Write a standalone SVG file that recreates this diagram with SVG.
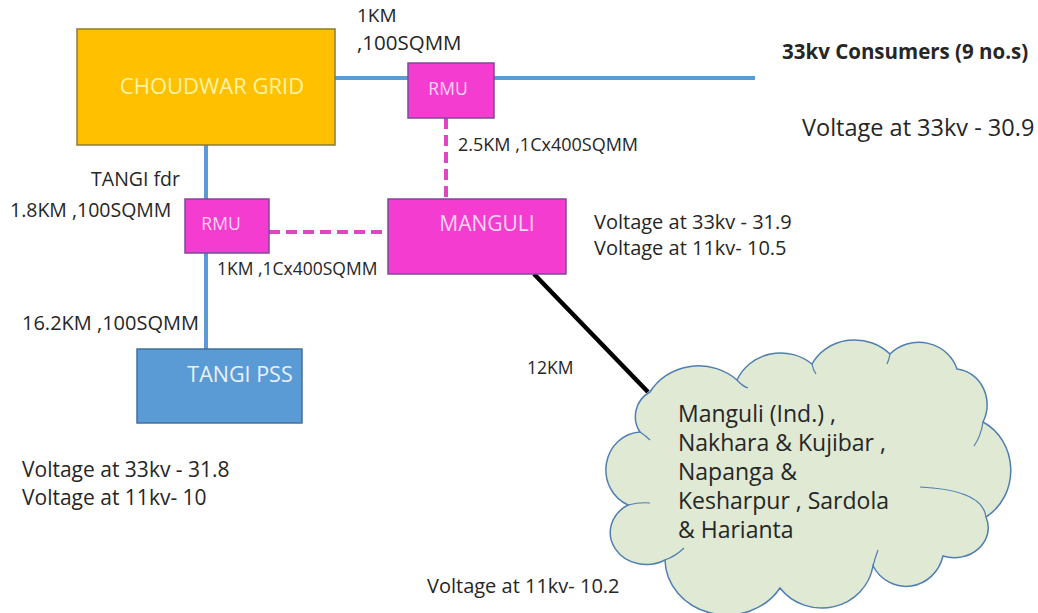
<svg xmlns="http://www.w3.org/2000/svg" width="1038" height="613" viewBox="0 0 1038 613">
<style>
text{font-family:"Open Sans","Noto Sans","Liberation Sans",sans-serif;fill:#262626}
.sm{font-size:19.5px}
.md{font-size:20px}
.lg{font-size:21px}
.cl{font-size:23px}
.box{stroke-width:1.5}
.lbl{text-anchor:middle}
.blue{stroke:#5b9bd5;stroke-width:4;fill:none}
.pink{stroke:#e045c6;stroke-width:4;fill:none;stroke-dasharray:11 6}
</style>
<rect width="1038" height="613" fill="#fff"/>
<g id="connectors">
<line class="blue" x1="335" y1="78" x2="755" y2="78"/>
<line class="blue" x1="206" y1="145" x2="206" y2="349"/>
<line class="pink" x1="446" y1="118" x2="446" y2="199"/>
<line class="pink" x1="269" y1="232" x2="388" y2="232"/>
<line x1="534" y1="274" x2="648" y2="392" stroke="#000" stroke-width="4.5"/>
</g>
<g id="choudwar">
<rect class="box" x="77" y="29" width="258" height="116" fill="#ffc000" stroke="#8c7a3a"/>
<text class="lbl" x="212" y="94" style="fill:#fff3a6;font-size:22px">CHOUDWAR GRID</text>
</g>
<g id="rmu-top">
<rect class="box" x="408" y="63" width="86" height="55" fill="#f53cd0" stroke="#7b4a9a"/>
<text class="lbl" x="448" y="95" style="fill:#ffd6f4;font-size:17.5px">RMU</text>
</g>
<g id="rmu-left">
<rect class="box" x="185" y="199" width="84" height="54" fill="#f53cd0" stroke="#7b4a9a"/>
<text class="lbl" x="221" y="230" style="fill:#ffd6f4;font-size:17.5px">RMU</text>
</g>
<g id="manguli">
<rect class="box" x="388" y="199" width="178" height="75" fill="#f53cd0" stroke="#7b4a9a"/>
<text class="lbl" x="487" y="231" style="fill:#ffd6f4;font-size:21px">MANGULI</text>
</g>
<g id="tangi-pss">
<rect class="box" x="137" y="349" width="165" height="74" fill="#5b9bd5" stroke="#41719c"/>
<text class="lbl" x="240" y="382" style="fill:#e8f1fb;font-size:21.5px">TANGI PSS</text>
</g>
<g id="cloud">
<path d="M640 432 A28 28 0 0 1 650 392 A56 52 0 0 1 737 380 A48 46 0 0 1 812 364 A48 44 0 0 1 890 354 A40 38 0 0 1 957 369 A34 36 0 0 1 983 422 A50 54 0 0 1 986 517 A34 30 0 0 1 943 556 A38 40 0 0 1 873 566 A52 50 0 0 1 780 588 A62 56 0 0 1 665 560 A34 30 0 0 1 628 505 A36 38 0 0 1 640 432 Z" fill="#dfe9d4" stroke="#4f7fb0" stroke-width="1.5"/>
<g fill="none" stroke="#4f7fb0" stroke-width="1.2">
<path d="M737 380 Q742 386 748 388"/>
<path d="M812 364 Q813 370 816 374"/>
<path d="M890 354 Q889 360 887 364"/>
<path d="M983 422 Q981 436 974 446"/>
<path d="M986 517 Q983 490 920 487"/>
<path d="M873 566 Q875 558 878 550"/>
<path d="M665 560 Q676 556 684 548"/>
<path d="M628 505 Q640 502 650 503"/>
<path d="M640 432 Q646 436 650 440"/>
</g>
<text class="cl" x="678" y="422">Manguli (Ind.) ,</text>
<text class="cl" x="678" y="451">Nakhara &amp; Kujibar ,</text>
<text class="cl" x="678" y="480">Napanga &amp;</text>
<text class="cl" x="678" y="509">Kesharpur , Sardola</text>
<text class="cl" x="678" y="538">&amp; Harianta</text>
</g>
<g id="labels">
<text class="sm" x="357" y="22" style="font-size:19px">1KM</text>
<text class="sm" x="357" y="50" style="font-size:20.5px">,100SQMM</text>
<text x="782" y="59" style="font-size:20.5px;font-weight:bold">33kv Consumers (9 no.s)</text>
<text class="lg" x="802" y="136" style="font-size:23.5px">Voltage at 33kv - 30.9</text>
<text class="sm" x="458" y="151" style="font-size:18px">2.5KM ,1Cx400SQMM</text>
<text class="sm" x="180" y="186" text-anchor="end">TANGI fdr</text>
<text class="sm" x="10" y="217">1.8KM ,100SQMM</text>
<text class="sm" x="217" y="275" style="font-size:17.5px">1KM ,1Cx400SQMM</text>
<text class="sm" x="22" y="330" style="font-size:20px">16.2KM ,100SQMM</text>
<text class="md" x="594" y="229">Voltage at 33kv - 31.9</text>
<text class="md" x="594" y="255">Voltage at 11kv- 10.5</text>
<text class="sm" x="527" y="374" style="font-size:17.5px">12KM</text>
<text class="lg" x="22" y="477">Voltage at 33kv - 31.8</text>
<text class="lg" x="22" y="505">Voltage at 11kv- 10</text>
<text class="lg" x="427" y="593" style="font-size:20px">Voltage at 11kv- 10.2</text>
</g>
</svg>
